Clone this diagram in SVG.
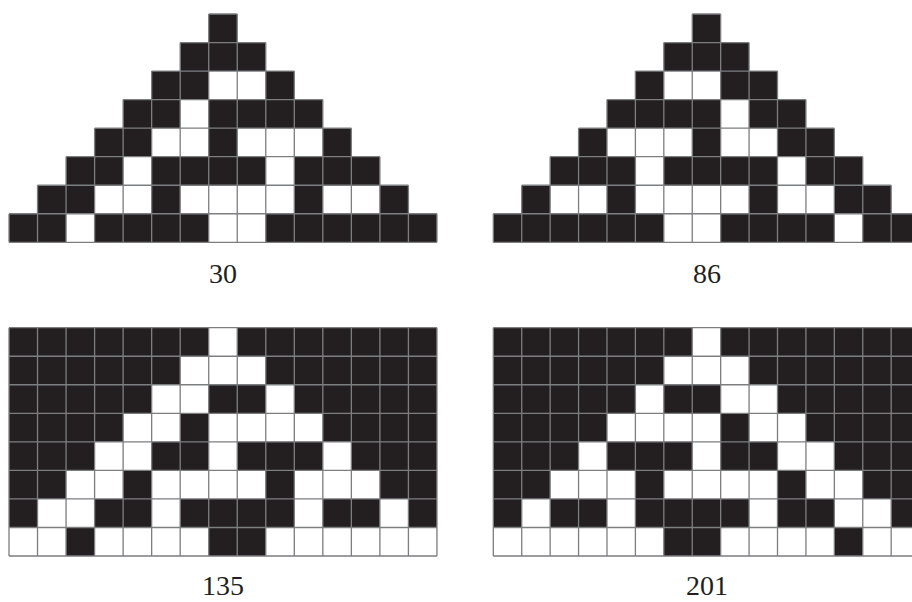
<svg xmlns="http://www.w3.org/2000/svg" width="912" height="602" viewBox="0 0 912 602">
<style>
.blk{fill:#231f20}
.wht{fill:#ffffff}
.grid{fill:none;stroke:#7d7e80;stroke-width:0.046}
.lbl{font-family:"Liberation Serif","Times New Roman",serif;font-size:28px;fill:#231f20;text-anchor:middle}
</style>
<defs>
<path id="p30" d="M7 0h1v1h-1z M6 1h3v1h-3z M5 2h2v1h-2z M9 2h1v1h-1z M4 3h2v1h-2z M7 3h4v1h-4z M3 4h2v1h-2z M7 4h1v1h-1z M11 4h1v1h-1z M2 5h2v1h-2z M5 5h4v1h-4z M10 5h3v1h-3z M1 6h2v1h-2z M5 6h1v1h-1z M10 6h1v1h-1z M13 6h1v1h-1z M0 7h2v1h-2z M3 7h4v1h-4z M9 7h6v1h-6z"/>
<path id="p86" d="M7 0h1v1h-1z M6 1h3v1h-3z M5 2h1v1h-1z M8 2h2v1h-2z M4 3h4v1h-4z M9 3h2v1h-2z M3 4h1v1h-1z M7 4h1v1h-1z M10 4h2v1h-2z M2 5h3v1h-3z M6 5h4v1h-4z M11 5h2v1h-2z M1 6h1v1h-1z M4 6h1v1h-1z M9 6h1v1h-1z M12 6h2v1h-2z M0 7h6v1h-6z M8 7h4v1h-4z M13 7h2v1h-2z"/>
<path id="triGrid" d="M7 0H8 M6 1H9 M5 2H10 M4 3H11 M3 4H12 M2 5H13 M1 6H14 M0 7H15 M0 8H15 M0 7V8 M1 6V8 M2 5V8 M3 4V8 M4 3V8 M5 2V8 M6 1V8 M7 0V8 M8 0V8 M9 1V8 M10 2V8 M11 3V8 M12 4V8 M13 5V8 M14 6V8 M15 7V8"/>
<path id="fullGrid" d="M0 0H15 M0 1H15 M0 2H15 M0 3H15 M0 4H15 M0 5H15 M0 6H15 M0 7H15 M0 8H15 M0 0V8 M1 0V8 M2 0V8 M3 0V8 M4 0V8 M5 0V8 M6 0V8 M7 0V8 M8 0V8 M9 0V8 M10 0V8 M11 0V8 M12 0V8 M13 0V8 M14 0V8 M15 0V8"/>
</defs>
<g id="rule30" transform="translate(9,14) scale(28.53,28.54)">
<use href="#p30" class="blk"/>
<use href="#triGrid" class="grid"/>
</g>
<g id="rule86" transform="translate(493.3,14) scale(28.42,28.54)">
<use href="#p86" class="blk"/>
<use href="#triGrid" class="grid"/>
</g>
<g id="rule135" transform="translate(9,327.7) scale(28.53,28.54)">
<rect x="0" y="0" width="15" height="8" class="blk"/>
<use href="#p30" class="wht"/>
<use href="#fullGrid" class="grid"/>
</g>
<g id="rule201" transform="translate(493.3,327.7) scale(28.42,28.54)">
<rect x="0" y="0" width="15" height="8" class="blk"/>
<use href="#p86" class="wht"/>
<use href="#fullGrid" class="grid"/>
</g>
<g id="labels">
<text class="lbl" x="223" y="283">30</text>
<text class="lbl" x="707" y="283">86</text>
<text class="lbl" x="223" y="595">135</text>
<text class="lbl" x="707" y="595">201</text>
</g>
</svg>
